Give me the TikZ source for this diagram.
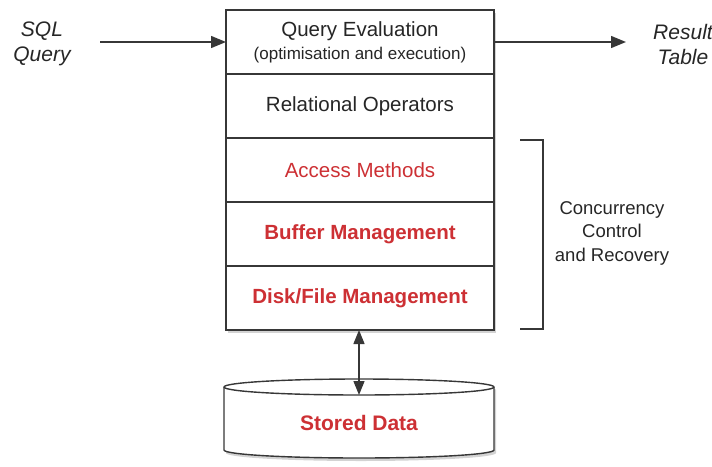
\documentclass[tikz,border=0pt]{standalone}
\usepackage{fontspec}
\setmainfont{Liberation Sans}
\usetikzlibrary{arrows.meta,positioning,shadows}
\definecolor{dbred}{RGB}{205,48,52}
\definecolor{dbgray}{RGB}{55,55,55}

\begin{document}
\begin{tikzpicture}[x=1pt,y=-1pt]
    % Define styles
    \tikzstyle{layer}=[draw=dbgray,line width=1.4pt,fill=white,minimum width=268pt,minimum height=64pt,inner sep=0pt,outer sep=0pt,
        font=\fontsize{20.5}{24}\selectfont,text=black!85,drop shadow={opacity=0.35,shadow xshift=2pt,shadow yshift=-3pt}]
    \tikzstyle{redlayer}=[layer,text=dbred]
    \tikzstyle{boldlayer}=[redlayer,font=\fontsize{20.5}{24}\selectfont\bfseries]
    \tikzstyle{side}=[font=\fontsize{21}{25}\selectfont\itshape,text=black!85,align=center]
    \tikzstyle{flow}=[draw=dbgray,line width=1.4pt,-{Triangle[length=15pt,width=12pt]}]
    \useasboundingbox (0,0) rectangle (712,466);

    % Layer stack
    \node[layer,align=center] (qeval) at (360,42) {Query Evaluation\\[-1pt]{\fontsize{17}{20}\selectfont(optimisation and execution)}};
    \node[layer,below=0pt of qeval] (relops) {Relational Operators};
    \node[redlayer,below=0pt of relops] (access) {Access Methods};
    \node[boldlayer,below=0pt of access] (buffer) {Buffer Management};
    \node[boldlayer,below=0pt of buffer] (disk) {Disk/File Management};

    % Input and output
    \node[side] (sql) at (42,44) {SQL\\Query};
    \node[side] (result) at (683,44) {Result\\Table};
    \coordinate (sqlend) at (100,42);
    \coordinate (resend) at (626,42);
    \draw[flow] (sqlend) -- (qeval.west);
    \draw[flow] (qeval.east) -- (resend);

    % Stored data
    \coordinate (cyltop) at (359,387);
    \draw[dbgray,line width=1.4pt,fill=white,drop shadow={opacity=0.35,shadow xshift=2pt,shadow yshift=-3pt}]
        (224,387) -- (224,450) arc[start angle=180,end angle=360,x radius=135pt,y radius=8pt]
        -- (494,387) arc[start angle=0,end angle=180,x radius=135pt,y radius=8pt] -- cycle;
    \draw[dbgray,line width=1.4pt] (224,387) arc[start angle=180,end angle=360,x radius=135pt,y radius=8pt];
    \node[font=\fontsize{21}{24}\selectfont\bfseries,text=dbred] (stored) at (359,423) {Stored Data};
    \draw[dbgray,line width=1.4pt,{Triangle[length=14pt,width=11pt]}-{Triangle[length=14pt,width=11pt]}]
        (disk.south -| cyltop) -- ([yshift=-8pt]cyltop);

    % Concurrency control bracket
    \draw[dbgray,line width=1.4pt] (520,140) -- (543,140) -- (543,329) -- (520,329);
    \node[font=\fontsize{18.5}{23.5}\selectfont,text=black!85,align=center] (cc) at (612,233) {Concurrency\\Control\\and Recovery};
\end{tikzpicture}
\end{document}
